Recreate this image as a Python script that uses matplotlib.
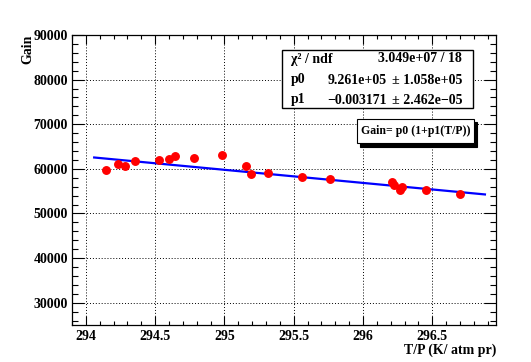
import matplotlib.pyplot as plt
import numpy as np
from matplotlib.ticker import MultipleLocator
from matplotlib.patches import Rectangle

# measured points: T/P vs gain
tp = [294.142, 294.234, 294.285, 294.357, 294.525, 294.602, 294.645, 294.782,
      294.980, 295.154, 295.194, 295.313, 295.561, 295.763, 296.213, 296.225,
      296.264, 296.278, 296.455, 296.701]
gain = [59780, 61060, 60600, 61660, 61890, 62180, 62790, 62470,
        63010, 60600, 58810, 58970, 58200, 57690, 56940, 56270,
        55280, 55960, 55280, 54320]

# fit result shown in the stats box
p0 = 9.261e5
p1 = -0.003171
fit_range = [294.06, 296.88]

font = {"family": "Liberation Serif", "weight": "bold"}

fig = plt.figure(figsize=(5.31, 3.62), dpi=100)
ax = fig.add_axes([72 / 531, 1 - 325 / 362, 424 / 531, 290 / 362])

xf = np.linspace(fit_range[0], fit_range[1], 200)
ax.plot(xf, p0 * (1 + p1 * xf), color="blue", lw=1.6, zorder=3)
ax.plot(tp, gain, "o", color="red", ms=5.4, mec="red", zorder=4)

ax.set_xlim(293.9, 296.96)
ax.set_ylim(25000, 90000)
ax.xaxis.set_major_locator(MultipleLocator(0.5))
ax.xaxis.set_minor_locator(MultipleLocator(0.1))
ax.yaxis.set_major_locator(MultipleLocator(10000))
ax.yaxis.set_minor_locator(MultipleLocator(2000))
ax.grid(True, which="major", color="black", ls=(0, (1, 2)), lw=0.7)
ax.tick_params(axis="both", which="both", direction="in", top=True, right=True, width=0.8)
ax.tick_params(axis="y", which="major", length=8.6, pad=3)
ax.tick_params(axis="y", which="minor", length=4.3)
ax.tick_params(axis="x", which="major", length=6.3, pad=3.5)
ax.tick_params(axis="x", which="minor", length=3.1)
ax.set_xticks([294, 294.5, 295, 295.5, 296, 296.5])
ax.set_xticklabels(["294", "294.5", "295", "295.5", "296", "296.5"])
for lab in ax.get_xticklabels() + ax.get_yticklabels():
    lab.set_fontfamily(font["family"])
    lab.set_fontweight("bold")
    lab.set_fontsize(10)
for s in ax.spines.values():
    s.set_linewidth(0.9)

fig.text(496 / 531, 1 - 350 / 362, "T/P (K/ atm pr)", ha="right", va="center", fontsize=10, **font)
fig.text(28 / 531, 1 - 35 / 362, "Gain", ha="center", va="top", rotation=90, fontsize=10, **font)

# stats box
def fx(px):
    return px / 531

def fy(py):
    return 1 - py / 362

fig.patches.append(Rectangle((fx(282), fy(108)), fx(473) - fx(282), fy(50) - fy(108),
                             transform=fig.transFigure, facecolor="white", edgecolor="black", lw=1.0, zorder=5))
rows = [("χ² / ndf", "3.049e+07 / 18", None),
        ("p0", "9.261e+05", "± 1.058e+05"),
        ("p1", "−0.003171", "± 2.462e−05")]
row_y = [59, 80, 100]
for (name, val, err), yy in zip(rows, row_y):
    fig.text(fx(291), fy(yy), name, ha="left", va="center", fontsize=10, zorder=6, **font)
    if err is None:
        fig.text(fx(462), fy(yy), val, ha="right", va="center", fontsize=10, zorder=6, **font)
    else:
        fig.text(fx(387), fy(yy), val, ha="right", va="center", fontsize=10, zorder=6, **font)
        fig.text(fx(462), fy(yy), err, ha="right", va="center", fontsize=10, zorder=6, **font)

# formula box with shadow
fig.patches.append(Rectangle((fx(360), fy(147)), fx(477) - fx(360), fy(122) - fy(147),
                             transform=fig.transFigure, facecolor="black", edgecolor="black", lw=0.8, zorder=5))
fig.patches.append(Rectangle((fx(357), fy(143)), fx(474) - fx(357), fy(119) - fy(143),
                             transform=fig.transFigure, facecolor="white", edgecolor="black", lw=0.8, zorder=6))
fig.text(fx(415.5), fy(131), "Gain= p0 (1+p1(T/P))", ha="center", va="center", fontsize=8.5, zorder=7, **font)

fig.savefig("out.png", dpi=100)
